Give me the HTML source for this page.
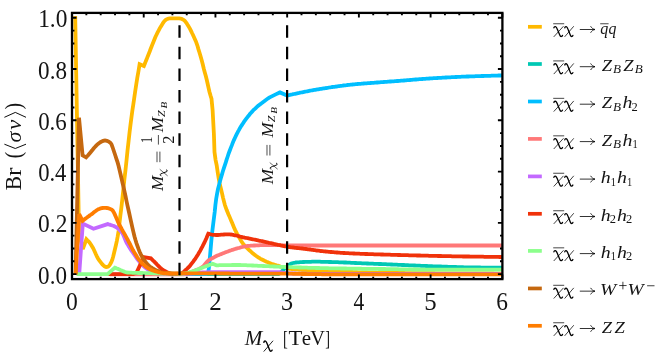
<!DOCTYPE html>
<html><head><meta charset="utf-8"><title>Branching ratios</title>
<style>html,body{margin:0;padding:0;background:#fff}body{width:664px;height:358px;overflow:hidden;position:relative;font-family:"Liberation Serif",serif}</style></head>
<body>
<svg width="664" height="358" viewBox="0 0 664 358" style="position:absolute;left:0;top:0;will-change:transform">
<defs><clipPath id="c"><rect x="72.0" y="12.9" width="430.4" height="266.20000000000005"/></clipPath></defs>
<rect width="664" height="358" fill="#fff"/>
<g clip-path="url(#c)" fill="none" stroke-width="3.8" stroke-linejoin="miter" stroke-miterlimit="3" stroke-linecap="butt">
<polyline stroke="#FFB900" points="75.2,16.1 79.0,233.0 82.8,249.0 86.4,239.3 87.4,240.3 88.5,241.3 89.5,242.5 90.4,243.7 91.2,245.0 92.1,246.5 93.0,248.0 94.0,250.0 95.0,252.2 96.0,254.5 97.0,256.6 98.0,258.5 98.9,259.9 99.8,261.1 100.6,262.2 101.5,263.3 102.4,264.4 103.4,265.4 104.3,266.2 105.2,266.7 106.2,267.0 107.2,266.9 108.2,266.5 109.3,265.6 110.3,264.0 111.4,262.0 112.3,259.7 113.2,256.5 114.1,252.8 115.0,249.0 115.9,245.2 116.8,241.1 117.7,236.4 118.6,231.0 119.4,223.9 120.3,216.0 121.2,209.1 122.0,202.0 123.2,191.0 124.3,180.0 125.5,170.0 126.5,160.6 127.5,150.7 128.6,141.0 129.6,132.0 130.5,124.7 131.4,117.7 132.3,110.9 133.3,104.5 134.2,98.2 135.1,92.0 136.2,84.7 137.3,77.8 138.5,71.0 139.6,64.2 143.9,66.0 144.9,63.6 145.8,61.2 146.8,58.8 147.7,56.4 148.7,54.0 149.7,51.5 150.6,49.0 151.6,46.5 152.6,43.9 153.6,41.5 154.6,39.1 155.5,36.8 156.5,34.7 157.5,32.6 158.6,30.6 159.6,28.7 160.6,26.9 161.7,25.2 162.7,23.6 163.6,22.2 164.6,20.9 165.5,20.0 166.5,19.4 167.5,18.9 168.5,18.5 169.5,18.4 170.5,18.4 171.5,18.4 172.4,18.4 173.4,18.4 174.4,18.4 175.4,18.4 176.4,18.4 177.3,18.4 178.3,18.4 179.3,18.4 180.4,18.5 181.4,18.8 182.4,19.3 183.5,19.8 184.6,20.6 185.6,21.9 186.7,23.4 187.7,25.1 188.8,26.8 189.9,28.6 190.9,30.6 191.9,32.8 193.0,35.0 193.9,37.0 194.8,39.0 195.8,41.2 196.7,43.6 197.6,46.2 198.4,49.1 199.3,52.0 200.5,56.0 201.7,60.3 202.8,64.5 203.8,68.7 204.8,72.4 205.8,76.1 206.8,80.0 207.7,84.0 208.6,88.2 209.5,92.0 210.5,95.5 211.5,98.7 212.6,110.0 213.9,134.0 214.5,152.0 215.6,160.1 216.7,165.4 217.7,172.2 218.7,178.5 219.8,184.1 221.0,188.9 222.1,193.6 223.0,197.6 224.0,201.6 224.9,205.0 225.8,207.6 226.6,209.8 227.5,212.0 228.4,214.3 229.4,216.4 230.3,218.6 231.3,220.9 232.3,223.3 233.2,225.6 234.2,227.9 235.2,230.1 236.2,232.1 237.1,233.9 238.1,235.6 239.1,237.2 240.0,238.8 241.2,241.0 242.5,243.0 243.5,244.3 244.6,245.5 245.6,246.6 246.6,247.7 247.7,248.6 248.7,249.6 249.7,250.5 250.7,251.4 251.7,252.3 252.7,253.2 253.7,254.0 254.6,254.8 255.6,255.6 256.6,256.3 257.6,257.0 258.6,257.6 259.6,258.2 260.6,258.8 261.5,259.3 262.5,259.8 263.5,260.3 264.5,260.8 265.5,261.2 266.4,261.7 267.4,262.1 268.4,262.5 269.4,262.9 270.4,263.3 271.5,263.7 272.5,264.0 273.5,264.4 274.5,264.7 275.5,265.0 276.5,265.3 277.6,265.6 278.6,265.9 279.6,266.2 280.6,266.5 281.7,266.8 282.7,267.1 283.7,267.3 284.8,267.6 285.8,267.9 286.8,268.2 287.8,268.4 288.9,268.6 289.9,268.8 290.9,269.0 292.0,269.2 293.0,269.3 294.0,269.4 295.0,269.5 296.0,269.6 297.0,269.7 298.0,269.7 299.0,269.8 300.0,269.9 301.0,269.9 302.0,270.0 303.0,270.0 304.0,270.1 305.0,270.1 306.0,270.2 307.0,270.3 308.0,270.3 309.0,270.4 310.0,270.4 311.0,270.5 312.0,270.5 313.0,270.6 314.0,270.6 315.0,270.6 316.0,270.7 317.0,270.7 318.0,270.8 319.0,270.8 320.0,270.9 321.0,270.9 322.0,270.9 323.0,271.0 324.0,271.0 325.0,271.1 326.0,271.1 327.0,271.1 328.0,271.2 329.0,271.2 330.0,271.2 331.0,271.3 332.0,271.3 333.0,271.4 334.0,271.4 335.0,271.4 336.0,271.5 337.0,271.5 338.0,271.5 339.0,271.6 340.0,271.6 341.0,271.6 342.0,271.7 343.0,271.7 344.0,271.8 345.0,271.8 346.0,271.8 347.0,271.9 348.0,271.9 349.0,271.9 350.0,272.0 351.0,272.0 352.0,272.0 353.0,272.1 354.0,272.1 355.0,272.2 356.0,272.2 357.0,272.2 358.0,272.3 359.0,272.3 360.0,272.3 361.0,272.4 362.0,272.4 363.0,272.4 364.0,272.5 365.0,272.5 366.0,272.5 367.0,272.5 368.0,272.6 369.0,272.6 370.0,272.6 371.0,272.6 372.0,272.7 373.0,272.7 374.0,272.7 375.0,272.7 376.0,272.7 377.0,272.8 378.0,272.8 379.0,272.8 380.0,272.8 381.0,272.8 382.0,272.8 383.0,272.8 384.0,272.8 385.0,272.9 386.0,272.9 387.0,272.9 388.0,272.9 389.0,272.9 390.0,272.9 391.0,272.9 392.0,272.9 393.0,272.9 394.0,273.0 395.0,273.0 396.1,273.0 397.1,273.0 398.1,273.0 399.1,273.0 400.1,273.0 401.1,273.0 402.1,273.0 403.1,273.0 404.1,273.0 405.1,273.1 406.1,273.1 407.1,273.1 408.1,273.1 409.1,273.1 410.1,273.1 411.1,273.1 412.1,273.1 413.1,273.1 414.1,273.1 415.1,273.1 416.1,273.1 417.1,273.1 418.1,273.1 419.1,273.2 420.1,273.2 421.1,273.2 422.1,273.2 423.1,273.2 424.1,273.2 425.1,273.2 426.2,273.2 427.2,273.2 428.2,273.2 429.2,273.2 430.2,273.2 431.2,273.2 432.2,273.2 433.2,273.2 434.2,273.2 435.2,273.3 436.2,273.3 437.2,273.3 438.2,273.3 439.2,273.3 440.2,273.3 441.2,273.3 442.2,273.3 443.2,273.3 444.2,273.3 445.2,273.3 446.2,273.3 447.2,273.3 448.2,273.3 449.2,273.3 450.2,273.3 451.2,273.3 452.2,273.3 453.2,273.3 454.2,273.3 455.2,273.4 456.2,273.4 457.3,273.4 458.3,273.4 459.3,273.4 460.3,273.4 461.3,273.4 462.3,273.4 463.3,273.4 464.3,273.4 465.3,273.4 466.3,273.4 467.3,273.4 468.3,273.4 469.3,273.4 470.3,273.4 471.3,273.4 472.3,273.4 473.3,273.4 474.3,273.4 475.3,273.4 476.3,273.5 477.3,273.5 478.3,273.5 479.3,273.5 480.3,273.5 481.3,273.5 482.3,273.5 483.3,273.5 484.3,273.5 485.3,273.5 486.3,273.5 487.4,273.5 488.4,273.5 489.4,273.5 490.4,273.5 491.4,273.5 492.4,273.5 493.4,273.5 494.4,273.6 495.4,273.6 496.4,273.6 497.4,273.6 498.4,273.6 499.4,273.6 500.4,273.6 501.4,273.6 502.4,273.6"/>
<polyline stroke="#00C8B4" points="183.0,274.2 278.5,274.2 279.2,273.7 280.0,273.2 281.1,272.2 282.1,271.1 283.2,270.0 284.1,269.1 285.0,268.2 285.9,267.4 286.8,266.6 287.7,265.9 288.6,265.1 289.5,264.5 290.4,264.0 291.3,263.6 292.2,263.3 293.1,263.0 294.0,262.8 295.0,262.7 296.0,262.5 297.0,262.4 298.0,262.3 299.0,262.3 300.0,262.2 301.0,262.1 302.0,262.1 303.0,262.0 304.0,262.0 305.0,261.9 306.0,261.9 307.0,261.9 308.0,261.8 309.0,261.8 310.0,261.8 311.0,261.8 312.0,261.7 313.0,261.7 314.0,261.7 315.0,261.7 316.0,261.7 317.0,261.7 318.0,261.7 319.0,261.7 320.0,261.7 321.0,261.8 322.0,261.8 323.0,261.8 324.0,261.8 325.0,261.9 326.0,261.9 327.0,261.9 328.0,261.9 329.0,262.0 330.0,262.0 331.0,262.0 332.0,262.1 333.0,262.1 334.0,262.1 335.0,262.1 336.0,262.2 337.0,262.2 338.0,262.2 339.0,262.3 340.0,262.3 341.0,262.3 342.0,262.4 343.0,262.4 344.0,262.5 345.0,262.5 346.0,262.5 347.0,262.6 348.0,262.6 349.0,262.7 350.0,262.7 351.0,262.8 352.0,262.8 353.0,262.9 354.0,262.9 355.0,263.0 356.0,263.0 357.0,263.1 358.0,263.1 359.0,263.2 360.0,263.2 361.0,263.2 362.0,263.3 363.0,263.3 364.0,263.4 365.0,263.4 366.0,263.4 367.0,263.5 368.0,263.5 369.0,263.6 370.0,263.6 371.0,263.6 372.0,263.7 373.0,263.7 374.0,263.8 375.0,263.8 376.0,263.8 377.0,263.9 378.0,263.9 379.0,264.0 380.0,264.0 381.0,264.0 382.0,264.1 383.0,264.1 384.0,264.2 385.0,264.2 386.0,264.2 387.0,264.3 388.0,264.3 389.0,264.4 390.0,264.4 391.0,264.5 392.0,264.5 393.0,264.6 394.0,264.6 395.0,264.6 396.0,264.7 397.0,264.7 398.0,264.8 399.0,264.8 400.0,264.9 401.0,264.9 402.0,265.0 403.0,265.0 404.0,265.0 405.0,265.1 406.0,265.1 407.0,265.2 408.0,265.2 409.0,265.3 410.0,265.3 411.0,265.4 412.0,265.4 413.0,265.4 414.0,265.5 415.0,265.5 416.0,265.6 417.0,265.6 418.0,265.7 419.0,265.7 420.0,265.7 421.0,265.8 422.0,265.8 423.0,265.9 424.0,265.9 425.0,265.9 426.0,266.0 427.0,266.0 428.0,266.1 429.0,266.1 430.0,266.1 431.0,266.2 432.0,266.2 433.0,266.3 434.0,266.3 435.0,266.3 436.0,266.4 437.0,266.4 438.0,266.4 439.0,266.5 440.0,266.5 441.0,266.5 442.0,266.6 443.0,266.6 444.0,266.6 445.0,266.7 446.0,266.7 447.0,266.7 448.0,266.8 449.0,266.8 450.0,266.8 451.0,266.9 452.0,266.9 453.0,266.9 454.0,267.0 455.0,267.0 456.0,267.0 457.0,267.1 458.0,267.1 459.0,267.1 460.0,267.2 461.0,267.2 462.0,267.2 463.0,267.2 464.0,267.3 465.0,267.3 466.0,267.3 467.0,267.3 468.0,267.4 469.0,267.4 470.0,267.4 471.0,267.4 472.0,267.4 473.0,267.5 474.0,267.5 475.0,267.5 476.0,267.5 477.0,267.5 478.0,267.5 479.0,267.5 480.1,267.5 481.1,267.6 482.1,267.6 483.1,267.6 484.1,267.6 485.1,267.6 486.2,267.6 487.2,267.6 488.2,267.6 489.2,267.6 490.2,267.6 491.2,267.6 492.2,267.6 493.3,267.6 494.3,267.6 495.3,267.7 496.3,267.7 497.3,267.7 498.3,267.7 499.4,267.7 500.4,267.7 501.4,267.7 502.4,267.7"/>
<polyline stroke="#00BEFF" points="183.0,274.2 206.0,274.2 208.2,272.5 208.9,268.0 210.2,254.0 211.4,240.0 212.3,231.2 213.5,221.6 214.7,212.0 215.4,205.0 216.2,198.7 217.1,193.6 218.0,189.0 219.0,185.1 219.9,181.5 220.9,177.9 221.9,174.6 222.8,171.5 223.8,168.4 224.8,165.4 225.8,162.4 226.7,159.4 227.7,156.5 228.6,153.7 229.6,151.0 230.7,148.1 231.8,145.4 232.8,142.7 233.9,140.1 235.0,137.7 236.1,135.4 237.1,133.5 238.0,131.6 239.0,129.9 239.9,128.2 240.9,126.6 242.0,124.9 243.1,123.2 244.1,121.7 245.2,120.2 246.3,118.7 247.3,117.4 248.2,116.2 249.2,115.0 250.1,113.8 251.1,112.7 252.1,111.6 253.1,110.5 254.1,109.5 255.2,108.6 256.2,107.6 257.2,106.7 258.2,105.8 259.2,105.0 260.2,104.2 261.2,103.4 262.2,102.7 263.2,101.9 264.2,101.2 265.2,100.4 266.2,99.7 267.2,99.0 268.2,98.3 269.2,97.7 270.2,97.1 271.2,96.6 272.2,96.1 273.2,95.6 274.2,95.1 275.2,94.6 276.2,94.1 277.1,93.7 278.1,93.3 279.0,92.8 280.0,92.4 287.0,95.5 288.0,95.3 289.0,95.1 290.0,94.9 291.0,94.7 292.1,94.5 293.1,94.2 294.1,94.0 295.1,93.8 296.1,93.6 297.1,93.4 298.1,93.2 299.1,93.0 300.1,92.7 301.1,92.5 302.2,92.3 303.2,92.1 304.2,91.9 305.2,91.7 306.2,91.5 307.2,91.3 308.2,91.1 309.2,90.9 310.2,90.7 311.2,90.5 312.3,90.3 313.3,90.1 314.3,89.9 315.3,89.8 316.3,89.6 317.3,89.4 318.3,89.3 319.3,89.1 320.3,88.9 321.3,88.8 322.4,88.6 323.4,88.4 324.4,88.3 325.4,88.1 326.4,88.0 327.4,87.8 328.4,87.7 329.4,87.5 330.4,87.3 331.4,87.2 332.4,87.0 333.4,86.9 334.5,86.8 335.5,86.6 336.5,86.5 337.5,86.3 338.5,86.2 339.5,86.1 340.5,85.9 341.5,85.8 342.5,85.7 343.5,85.5 344.5,85.4 345.5,85.3 346.6,85.2 347.6,85.0 348.6,84.9 349.6,84.8 350.6,84.7 351.6,84.6 352.6,84.5 353.6,84.4 354.6,84.3 355.6,84.2 356.6,84.1 357.6,84.0 358.6,83.9 359.7,83.8 360.7,83.8 361.7,83.7 362.7,83.6 363.7,83.5 364.7,83.4 365.7,83.4 366.7,83.3 367.7,83.2 368.7,83.1 369.7,83.1 370.7,83.0 371.7,82.9 372.7,82.8 373.8,82.8 374.8,82.7 375.8,82.6 376.8,82.5 377.8,82.5 378.8,82.4 379.8,82.3 380.8,82.2 381.8,82.1 382.8,82.1 383.8,82.0 384.9,81.9 385.9,81.8 386.9,81.8 387.9,81.7 388.9,81.6 389.9,81.5 390.9,81.5 391.9,81.4 392.9,81.3 393.9,81.3 394.9,81.2 396.0,81.1 397.0,81.0 398.0,81.0 399.0,80.9 400.0,80.8 401.0,80.7 402.0,80.6 403.0,80.6 404.0,80.5 405.1,80.4 406.1,80.3 407.1,80.2 408.1,80.1 409.1,80.1 410.1,80.0 411.1,79.9 412.1,79.8 413.1,79.7 414.2,79.6 415.2,79.5 416.2,79.5 417.2,79.4 418.2,79.3 419.2,79.2 420.2,79.1 421.2,79.1 422.3,79.0 423.3,78.9 424.3,78.8 425.3,78.8 426.3,78.7 427.3,78.6 428.3,78.6 429.3,78.5 430.3,78.4 431.3,78.4 432.4,78.3 433.4,78.2 434.4,78.2 435.4,78.1 436.4,78.1 437.4,78.0 438.4,77.9 439.4,77.9 440.4,77.8 441.4,77.8 442.4,77.7 443.4,77.6 444.5,77.6 445.5,77.5 446.5,77.5 447.5,77.4 448.5,77.4 449.5,77.3 450.5,77.3 451.5,77.2 452.5,77.2 453.5,77.1 454.5,77.1 455.5,77.0 456.6,77.0 457.6,76.9 458.6,76.9 459.6,76.8 460.6,76.8 461.6,76.7 462.6,76.7 463.6,76.7 464.6,76.6 465.6,76.6 466.6,76.5 467.6,76.5 468.6,76.5 469.6,76.4 470.6,76.4 471.6,76.4 472.6,76.3 473.5,76.3 474.5,76.3 475.5,76.2 476.5,76.2 477.5,76.2 478.5,76.1 479.5,76.1 480.5,76.1 481.5,76.0 482.5,76.0 483.5,76.0 484.5,75.9 485.5,75.9 486.5,75.9 487.5,75.9 488.5,75.8 489.5,75.8 490.5,75.8 491.5,75.7 492.4,75.7 493.4,75.7 494.4,75.6 495.4,75.6 496.4,75.6 497.4,75.6 498.4,75.5 499.4,75.5 500.4,75.5 501.4,75.4 502.4,75.4"/>
<polyline stroke="#FF7878" points="110.0,274.3 184.0,274.3 185.0,274.1 186.0,273.9 187.0,273.6 188.0,273.3 189.0,272.9 190.0,272.5 191.0,272.1 192.0,271.7 193.0,271.3 194.0,270.9 195.0,270.5 196.0,270.1 197.0,269.7 198.0,269.3 198.9,268.9 199.8,268.4 200.8,268.0 201.7,267.4 202.6,266.8 203.7,265.8 204.8,264.5 206.0,263.1 207.1,261.8 207.8,261.0 208.6,260.2 209.6,259.7 210.6,259.1 211.6,258.6 212.7,258.0 213.7,257.5 214.8,256.9 215.9,256.3 216.9,255.8 218.0,255.3 219.0,254.9 220.0,254.4 221.0,254.1 222.0,253.7 223.0,253.3 224.0,252.9 225.0,252.5 226.0,252.1 227.0,251.8 228.0,251.4 229.0,251.0 230.1,250.6 231.1,250.3 232.2,249.9 233.2,249.6 234.2,249.2 235.3,248.9 236.3,248.6 237.3,248.3 238.4,248.0 239.4,247.8 240.4,247.5 241.5,247.2 242.5,247.0 243.5,246.7 244.6,246.5 245.6,246.3 246.6,246.1 247.7,246.0 248.7,245.9 249.7,245.8 250.8,245.7 251.8,245.7 252.8,245.6 253.8,245.5 254.9,245.5 255.9,245.4 256.9,245.4 257.9,245.3 259.0,245.3 260.0,245.2 261.0,245.2 262.1,245.2 263.1,245.1 264.1,245.1 265.1,245.1 266.2,245.1 267.2,245.1 268.2,245.1 269.2,245.1 270.2,245.1 271.2,245.1 272.2,245.1 273.2,245.1 274.2,245.1 275.2,245.2 276.1,245.2 277.1,245.2 278.1,245.2 279.1,245.2 280.1,245.2 281.1,245.3 282.1,245.3 283.1,245.3 284.1,245.3 285.1,245.3 286.1,245.3 287.1,245.4 288.1,245.4 289.1,245.4 290.1,245.4 291.1,245.4 292.0,245.4 293.0,245.5 294.0,245.5 295.0,245.5 296.0,245.5 297.0,245.5 298.0,245.5 299.0,245.5 300.0,245.5 301.0,245.5 302.0,245.5 303.0,245.5 304.0,245.5 305.0,245.5 306.0,245.5 307.0,245.5 308.0,245.5 309.0,245.5 310.0,245.5 311.0,245.5 312.0,245.5 313.0,245.5 314.0,245.5 315.0,245.5 316.0,245.5 317.0,245.5 318.0,245.5 319.0,245.5 320.0,245.5 321.0,245.5 322.0,245.5 323.0,245.5 324.0,245.5 325.0,245.5 326.1,245.5 327.1,245.5 328.1,245.5 329.1,245.5 330.1,245.5 331.1,245.5 332.1,245.5 333.1,245.5 334.1,245.5 335.1,245.5 336.1,245.5 337.1,245.5 338.1,245.5 339.1,245.5 340.1,245.5 341.1,245.5 342.1,245.5 343.1,245.5 344.1,245.5 345.1,245.5 346.1,245.5 347.1,245.5 348.1,245.5 349.1,245.5 350.1,245.5 351.1,245.5 352.1,245.5 353.1,245.5 354.1,245.5 355.1,245.5 356.1,245.5 357.1,245.5 358.1,245.5 359.1,245.5 360.1,245.5 361.1,245.5 362.1,245.5 363.1,245.5 364.1,245.5 365.1,245.5 366.1,245.5 367.1,245.5 368.1,245.5 369.1,245.5 370.1,245.5 371.1,245.5 372.1,245.5 373.1,245.5 374.1,245.5 375.1,245.5 376.2,245.5 377.2,245.5 378.2,245.5 379.2,245.5 380.2,245.5 381.2,245.5 382.2,245.5 383.2,245.5 384.2,245.5 385.2,245.5 386.2,245.5 387.2,245.5 388.2,245.5 389.2,245.5 390.2,245.5 391.2,245.5 392.2,245.5 393.2,245.5 394.2,245.5 395.2,245.5 396.2,245.5 397.2,245.5 398.2,245.5 399.2,245.5 400.2,245.5 401.2,245.5 402.2,245.5 403.2,245.5 404.2,245.5 405.2,245.5 406.2,245.5 407.2,245.5 408.2,245.5 409.2,245.5 410.2,245.5 411.2,245.5 412.2,245.5 413.2,245.5 414.2,245.5 415.2,245.5 416.2,245.5 417.2,245.5 418.2,245.5 419.2,245.5 420.2,245.5 421.2,245.5 422.2,245.5 423.2,245.5 424.2,245.5 425.2,245.5 426.2,245.5 427.3,245.5 428.3,245.5 429.3,245.5 430.3,245.5 431.3,245.5 432.3,245.5 433.3,245.5 434.3,245.5 435.3,245.5 436.3,245.5 437.3,245.5 438.3,245.5 439.3,245.5 440.3,245.5 441.3,245.5 442.3,245.5 443.3,245.5 444.3,245.5 445.3,245.5 446.3,245.5 447.3,245.5 448.3,245.5 449.3,245.5 450.3,245.5 451.3,245.5 452.3,245.5 453.3,245.5 454.3,245.5 455.3,245.5 456.3,245.5 457.3,245.5 458.3,245.5 459.3,245.5 460.3,245.5 461.3,245.5 462.3,245.5 463.3,245.5 464.3,245.5 465.3,245.5 466.3,245.5 467.3,245.5 468.3,245.5 469.3,245.5 470.3,245.5 471.3,245.5 472.3,245.5 473.3,245.5 474.3,245.5 475.3,245.5 476.3,245.5 477.4,245.5 478.4,245.5 479.4,245.5 480.4,245.5 481.4,245.5 482.4,245.5 483.4,245.5 484.4,245.5 485.4,245.5 486.4,245.5 487.4,245.5 488.4,245.5 489.4,245.5 490.4,245.5 491.4,245.5 492.4,245.5 493.4,245.5 494.4,245.5 495.4,245.5 496.4,245.5 497.4,245.5 498.4,245.5 499.4,245.5 500.4,245.5 501.4,245.5 502.4,245.5"/>
<polyline stroke="#C369FF" points="79.2,274.3 82.8,223.6 93.5,228.7 107.7,224.1 108.6,224.4 109.6,224.6 110.5,224.9 111.5,225.2 112.4,225.5 113.4,225.8 114.3,226.2 115.3,226.7 116.3,227.3 117.3,228.0 118.3,228.7 119.3,229.6 120.3,230.6 121.3,231.8 122.3,233.0 123.2,234.7 124.2,237.0 125.1,239.4 126.0,241.5 126.9,243.2 127.9,244.9 128.8,246.4 129.8,247.9 130.7,249.4 131.6,250.8 132.6,252.1 133.5,253.5 134.5,255.0 135.5,256.4 136.5,257.9 137.5,259.3 138.5,260.6 139.5,261.9 140.5,263.0 141.4,264.0 142.4,264.9 143.3,265.9 144.2,266.7 145.2,267.5 146.1,268.3 147.1,268.9 148.0,269.5 149.0,270.0 150.0,270.5 151.0,271.0 152.0,271.4 153.0,271.7 154.0,272.0 155.0,272.3 156.0,272.5 157.0,272.7 158.0,272.9 159.0,273.1 160.0,273.3 161.0,273.4 162.0,273.6 163.0,273.7 164.0,273.8 165.0,273.8 166.0,273.8 167.1,273.9 168.1,273.9 169.1,273.9 170.2,273.9 171.2,273.9 172.2,273.9 173.3,274.0 174.3,274.0 175.4,274.0 176.4,274.0 177.4,274.0 178.5,274.0 179.5,274.0 180.5,274.0 181.4,274.0 182.4,274.0 183.4,273.9 184.3,273.9 185.3,273.8 186.3,273.8 187.2,273.7 188.2,273.7 189.2,273.6 190.2,273.5 191.1,273.5 192.1,273.4 193.1,273.3 194.0,273.3 195.0,273.2 196.0,273.1 197.0,273.0 198.0,272.9 199.0,272.8 200.0,272.7 201.0,272.6 202.0,272.5 203.0,272.5 204.0,272.4 205.0,272.4 206.0,272.3 207.0,272.3 208.0,272.2 209.0,272.2 210.0,272.2 211.0,272.2 212.0,272.1 213.0,272.1 214.0,272.1 215.0,272.1 216.0,272.1 217.0,272.1 218.0,272.1 219.0,272.1 220.0,272.1 221.0,272.1 222.0,272.1 223.0,272.1 224.0,272.1 225.0,272.1 226.0,272.1 227.0,272.1 228.0,272.1 229.0,272.1 230.0,272.1 231.0,272.1 232.0,272.1 233.0,272.1 234.0,272.1 235.0,272.1 236.0,272.1 237.0,272.1 238.0,272.1 239.0,272.1 240.0,272.1 241.0,272.1 242.0,272.1 243.0,272.1 244.0,272.1 245.0,272.1 246.0,272.1 247.0,272.1 248.0,272.1 249.0,272.1 250.0,272.1 251.0,272.1 252.0,272.1 253.0,272.1 254.0,272.2 255.0,272.2 256.0,272.2 257.0,272.2 258.0,272.2 259.0,272.2 260.0,272.2 261.0,272.2 262.0,272.2 263.0,272.2 264.0,272.2 265.0,272.2 266.0,272.2 267.0,272.2 268.0,272.2 269.0,272.2 270.0,272.2 271.0,272.2 272.0,272.2 273.0,272.2 274.0,272.2 275.0,272.2 276.0,272.2 277.0,272.2 278.0,272.2 279.0,272.2 280.0,272.2 281.0,272.3 282.0,272.5 283.0,272.7 284.0,272.8 285.0,273.0 286.0,273.1 287.0,273.3 288.0,273.4 289.0,273.4 290.0,273.4 291.0,273.5 292.0,273.5 293.0,273.5 294.0,273.5 295.0,273.5 296.0,273.6 297.0,273.6 298.0,273.6 299.0,273.6 300.0,273.6 301.0,273.7 302.0,273.7 303.0,273.7 304.0,273.7 305.0,273.7 306.0,273.7 307.0,273.8 308.0,273.8 309.0,273.8 310.0,273.8 311.0,273.8 312.0,273.8 313.0,273.8 314.0,273.8 315.0,273.8 316.0,273.9 317.0,273.9 318.0,273.9 319.0,273.9 320.0,273.9 321.0,273.9 322.0,273.9 323.0,273.9 324.0,273.9 325.0,273.9 326.0,273.9 327.0,273.9 328.0,273.9 329.0,273.9 330.0,273.9 331.0,273.9 332.0,273.9 333.0,273.9 334.0,273.9 335.0,273.9 336.0,273.9 337.0,273.9 338.0,273.9 339.0,273.9 340.0,273.9 341.0,273.9 342.0,273.9 343.0,273.9 344.0,273.9 345.0,273.9 346.0,273.9 347.0,273.9 348.0,273.9 349.0,273.9 350.0,273.9 351.0,273.9 352.1,273.9 353.1,273.9 354.1,273.9 355.1,273.9 356.1,273.9 357.1,273.9 358.1,273.9 359.1,273.9 360.1,273.9 361.1,273.9 362.1,273.9 363.1,273.9 364.1,273.9 365.1,273.9 366.1,273.9 367.1,273.9 368.1,273.9 369.1,273.9 370.1,273.9 371.1,273.9 372.1,273.9 373.1,273.9 374.1,273.9 375.1,273.9 376.1,273.9 377.1,273.9 378.1,273.9 379.1,273.9 380.1,273.9 381.1,273.9 382.1,273.9 383.1,273.9 384.1,273.9 385.1,273.9 386.1,273.9 387.1,273.9 388.1,273.9 389.1,273.9 390.1,273.9 391.1,273.9 392.1,273.9 393.1,273.9 394.1,273.9 395.2,273.9 396.2,273.9 397.2,273.9 398.2,273.9 399.2,273.9 400.2,273.9 401.2,273.9 402.2,273.9 403.2,273.9 404.2,273.9 405.2,273.9 406.2,273.9 407.2,273.9 408.2,273.9 409.2,273.9 410.2,273.9 411.2,273.9 412.2,273.9 413.2,273.9 414.2,273.9 415.2,273.9 416.2,273.9 417.2,273.9 418.2,273.9 419.2,273.9 420.2,273.9 421.2,273.9 422.2,273.9 423.2,273.9 424.2,273.9 425.2,273.9 426.2,273.9 427.2,273.9 428.2,273.9 429.2,273.9 430.2,273.9 431.2,273.9 432.2,273.9 433.2,273.9 434.2,273.9 435.2,273.9 436.2,273.9 437.2,273.9 438.3,273.9 439.3,273.9 440.3,273.9 441.3,273.9 442.3,273.9 443.3,273.9 444.3,273.9 445.3,273.9 446.3,273.9 447.3,273.9 448.3,273.9 449.3,273.9 450.3,273.9 451.3,273.9 452.3,273.9 453.3,273.9 454.3,273.9 455.3,273.9 456.3,273.9 457.3,273.9 458.3,273.9 459.3,273.9 460.3,273.9 461.3,273.9 462.3,273.9 463.3,273.9 464.3,273.9 465.3,273.9 466.3,273.9 467.3,273.9 468.3,273.9 469.3,273.9 470.3,273.9 471.3,273.9 472.3,273.9 473.3,273.9 474.3,273.9 475.3,273.9 476.3,273.9 477.3,273.9 478.3,273.9 479.3,273.9 480.3,273.9 481.4,273.9 482.4,273.9 483.4,273.9 484.4,273.9 485.4,273.9 486.4,273.9 487.4,273.9 488.4,273.9 489.4,273.9 490.4,273.9 491.4,273.9 492.4,273.9 493.4,273.9 494.4,273.9 495.4,273.9 496.4,273.9 497.4,273.9 498.4,273.9 499.4,273.9 500.4,273.9 501.4,273.9 502.4,273.9"/>
<polyline stroke="#F0320A" points="108.0,274.1 133.0,274.1 136.6,272.5 143.7,257.2 150.9,258.3 151.9,259.3 152.9,260.3 154.0,261.3 155.0,262.4 156.0,263.4 157.0,264.5 158.1,265.6 159.1,266.6 160.1,267.6 161.1,268.5 162.1,269.3 163.2,270.1 164.2,270.8 165.2,271.3 166.2,271.8 167.3,272.3 168.3,272.7 169.3,273.1 170.3,273.4 171.4,273.7 172.4,273.8 173.4,273.9 174.4,273.9 175.4,274.0 176.5,274.0 177.5,274.1 178.5,274.1 179.5,274.1 180.5,274.0 181.4,273.5 182.4,272.9 183.3,272.2 184.3,271.3 185.2,270.4 186.2,269.6 187.2,268.7 188.2,267.7 189.2,266.6 190.2,265.5 191.2,264.2 192.2,262.9 193.2,261.6 194.2,260.2 195.2,258.8 196.2,257.3 197.2,255.7 198.3,254.0 199.3,252.2 200.4,250.4 201.4,248.4 202.5,246.4 203.5,244.3 204.6,242.2 205.6,240.0 206.5,238.0 207.4,235.8 208.3,233.7 209.2,233.9 210.2,234.2 211.1,234.5 212.1,234.7 213.0,234.8 214.0,234.9 215.0,234.9 216.0,235.0 217.0,235.0 218.0,235.0 219.0,234.9 220.0,234.8 221.0,234.7 222.0,234.7 223.0,234.6 224.0,234.5 225.0,234.4 226.0,234.4 227.0,234.3 228.0,234.3 229.0,234.3 230.0,234.3 231.0,234.5 232.0,234.6 233.0,234.8 234.0,235.1 235.0,235.3 236.0,235.5 237.1,235.7 238.2,236.0 239.2,236.3 240.3,236.6 241.4,236.8 242.5,237.1 243.5,237.3 244.6,237.6 245.6,237.8 246.6,238.0 247.6,238.2 248.7,238.4 249.7,238.7 250.7,238.9 251.8,239.1 252.8,239.3 253.8,239.5 254.8,239.7 255.9,239.9 256.9,240.1 257.9,240.3 258.9,240.6 260.0,240.8 261.0,241.0 262.0,241.2 263.0,241.4 264.0,241.7 265.0,241.9 266.0,242.1 267.0,242.3 268.0,242.5 268.9,242.8 269.9,243.0 270.9,243.2 271.9,243.4 272.9,243.6 273.9,243.9 274.9,244.1 275.9,244.3 276.9,244.5 277.9,244.8 278.9,245.0 279.9,245.2 280.9,245.5 282.0,245.7 283.0,245.9 284.0,246.1 285.0,246.3 286.0,246.5 287.0,246.7 288.0,246.9 289.0,247.0 290.0,247.1 291.0,247.3 292.0,247.4 293.0,247.5 294.0,247.6 295.0,247.8 296.0,247.9 297.0,248.0 298.0,248.1 299.0,248.2 300.0,248.3 301.0,248.4 302.0,248.5 303.0,248.6 304.0,248.8 305.0,248.9 306.0,249.0 307.0,249.1 308.0,249.3 309.0,249.4 309.9,249.5 310.9,249.7 311.9,249.8 312.9,249.9 313.9,250.1 314.9,250.2 315.8,250.3 316.8,250.5 317.8,250.6 318.8,250.7 319.8,250.8 320.8,251.0 321.7,251.1 322.7,251.2 323.7,251.3 324.7,251.4 325.7,251.5 326.7,251.6 327.7,251.7 328.7,251.8 329.6,251.9 330.6,252.0 331.6,252.0 332.6,252.1 333.6,252.2 334.6,252.3 335.6,252.4 336.6,252.5 337.5,252.5 338.5,252.6 339.5,252.7 340.5,252.8 341.5,252.8 342.5,252.9 343.5,253.0 344.5,253.0 345.4,253.1 346.4,253.1 347.4,253.2 348.4,253.2 349.4,253.3 350.4,253.3 351.4,253.4 352.4,253.4 353.4,253.5 354.3,253.5 355.3,253.6 356.3,253.6 357.3,253.7 358.3,253.7 359.3,253.7 360.3,253.8 361.3,253.8 362.2,253.9 363.2,253.9 364.2,253.9 365.2,254.0 366.2,254.0 367.2,254.0 368.2,254.1 369.2,254.1 370.1,254.1 371.1,254.2 372.1,254.2 373.1,254.2 374.1,254.3 375.1,254.3 376.1,254.3 377.1,254.4 378.0,254.4 379.0,254.4 380.0,254.4 381.0,254.5 382.0,254.5 383.0,254.5 384.0,254.6 385.0,254.6 386.0,254.6 387.0,254.6 388.0,254.7 389.0,254.7 390.0,254.7 391.0,254.8 392.0,254.8 393.0,254.8 394.0,254.9 395.0,254.9 396.0,254.9 397.0,254.9 398.0,255.0 399.0,255.0 400.0,255.0 401.0,255.1 402.0,255.1 403.0,255.1 404.0,255.1 405.0,255.2 406.0,255.2 407.0,255.2 408.0,255.2 409.0,255.3 410.0,255.3 411.0,255.3 412.0,255.3 413.0,255.4 414.0,255.4 415.0,255.4 416.0,255.4 417.0,255.5 418.0,255.5 419.0,255.5 420.0,255.5 421.0,255.6 422.0,255.6 423.0,255.6 424.0,255.6 425.0,255.7 426.0,255.7 427.0,255.7 428.0,255.7 429.0,255.8 430.0,255.8 431.0,255.8 432.0,255.8 433.0,255.9 434.0,255.9 435.0,255.9 436.0,255.9 437.0,255.9 438.0,256.0 439.0,256.0 440.0,256.0 441.0,256.0 442.0,256.1 443.0,256.1 444.0,256.1 445.0,256.1 446.0,256.1 447.0,256.2 448.0,256.2 449.0,256.2 450.0,256.2 451.0,256.2 452.0,256.3 453.0,256.3 454.0,256.3 455.0,256.3 456.0,256.3 457.0,256.3 458.0,256.4 459.0,256.4 460.0,256.4 461.0,256.4 462.0,256.4 463.0,256.5 464.0,256.5 465.0,256.5 466.1,256.5 467.1,256.5 468.1,256.5 469.1,256.5 470.1,256.6 471.1,256.6 472.1,256.6 473.1,256.6 474.1,256.6 475.1,256.6 476.2,256.6 477.2,256.7 478.2,256.7 479.2,256.7 480.2,256.7 481.2,256.7 482.2,256.7 483.2,256.7 484.2,256.8 485.2,256.8 486.2,256.8 487.3,256.8 488.3,256.8 489.3,256.8 490.3,256.8 491.3,256.8 492.3,256.9 493.3,256.9 494.3,256.9 495.3,256.9 496.3,256.9 497.4,256.9 498.4,256.9 499.4,257.0 500.4,257.0 501.4,257.0 502.4,257.0"/>
<polyline stroke="#8CFF8C" points="76.5,274.1 107.5,274.1 114.9,267.6 115.9,268.0 116.8,268.4 117.8,268.8 118.8,269.3 119.8,269.7 120.7,270.2 121.7,270.6 122.7,271.1 123.6,271.4 124.6,271.8 125.6,272.1 126.6,272.3 127.5,272.5 128.5,272.6 129.5,272.7 130.5,272.7 131.4,272.7 132.4,272.8 133.4,272.8 134.4,272.9 135.3,272.9 136.3,272.9 137.3,272.9 138.3,273.0 139.2,273.0 140.2,273.0 141.2,273.0 142.2,273.0 143.2,273.1 144.1,273.1 145.1,273.1 146.1,273.1 147.1,273.1 148.0,273.2 149.0,273.2 150.0,273.2 151.0,273.2 152.0,273.2 153.0,273.3 154.0,273.3 155.0,273.3 156.0,273.4 157.0,273.4 158.0,273.4 159.0,273.4 160.0,273.5 161.0,273.5 162.0,273.5 163.0,273.5 164.0,273.6 165.0,273.6 166.0,273.6 167.0,273.6 168.0,273.7 169.0,273.7 170.0,273.7 171.0,273.7 172.0,273.7 173.0,273.7 174.0,273.8 175.0,273.8 176.0,273.8 177.0,273.8 178.0,273.8 179.0,273.8 180.0,273.8 181.0,273.8 181.9,273.7 182.9,273.6 183.8,273.5 184.8,273.3 185.7,273.2 186.7,273.0 187.7,272.8 188.8,272.5 189.8,272.3 190.8,271.9 191.9,271.6 192.9,271.2 194.0,270.9 195.0,270.5 196.0,270.2 196.9,269.8 197.9,269.4 198.9,269.0 199.9,268.6 200.9,268.2 201.8,267.8 202.8,267.4 203.8,267.0 204.8,266.7 205.8,266.3 206.8,265.9 207.8,265.6 208.7,265.2 209.7,264.9 210.7,264.5 211.7,264.2 212.7,263.8 216.4,265.3 217.4,265.3 218.3,265.3 219.3,265.2 220.3,265.2 221.2,265.2 222.2,265.2 223.2,265.2 224.1,265.2 225.1,265.1 226.1,265.1 227.0,265.1 228.0,265.1 229.0,265.1 230.1,265.1 231.1,265.1 232.2,265.0 233.2,265.0 234.2,265.0 235.3,265.0 236.3,265.0 237.3,265.0 238.3,265.0 239.3,265.0 240.3,265.0 241.2,265.1 242.2,265.1 243.2,265.1 244.2,265.1 245.2,265.2 246.2,265.2 247.2,265.3 248.2,265.3 249.1,265.3 250.1,265.4 251.1,265.4 252.1,265.5 253.1,265.5 254.1,265.6 255.1,265.6 256.1,265.7 257.0,265.7 258.0,265.8 259.0,265.8 260.0,265.9 261.0,265.9 262.0,265.9 263.0,266.0 264.0,266.0 265.0,266.1 265.9,266.1 266.9,266.2 267.9,266.2 268.9,266.2 269.9,266.3 270.9,266.3 271.9,266.4 272.9,266.4 273.8,266.5 274.8,266.5 275.8,266.6 276.8,266.6 277.8,266.7 278.8,266.7 279.8,266.8 280.8,266.8 281.7,266.8 282.7,266.9 283.7,266.9 284.7,267.0 285.7,267.0 286.7,267.0 287.7,267.1 288.7,267.1 289.8,267.2 290.8,267.2 291.8,267.2 292.8,267.3 293.8,267.3 294.8,267.3 295.9,267.4 296.9,267.4 297.9,267.4 298.9,267.5 299.9,267.5 300.9,267.5 301.9,267.6 303.0,267.6 304.0,267.6 305.0,267.7 306.0,267.7 307.0,267.7 308.0,267.8 309.0,267.8 310.0,267.8 311.0,267.8 312.0,267.9 313.0,267.9 314.0,267.9 315.0,267.9 316.0,268.0 317.0,268.0 318.0,268.0 319.0,268.0 320.0,268.1 321.0,268.1 322.0,268.1 323.0,268.1 324.0,268.1 325.0,268.2 326.0,268.2 327.0,268.2 328.0,268.2 329.0,268.3 330.0,268.3 331.0,268.3 332.0,268.3 333.0,268.3 334.0,268.3 335.0,268.4 336.0,268.4 337.0,268.4 338.0,268.4 339.0,268.4 340.0,268.4 341.0,268.5 342.0,268.5 343.0,268.5 344.0,268.5 345.0,268.5 346.0,268.5 347.0,268.6 348.0,268.6 349.0,268.6 350.0,268.6 351.0,268.6 352.0,268.6 353.0,268.6 354.0,268.7 355.0,268.7 356.0,268.7 357.0,268.7 358.0,268.7 359.0,268.7 360.0,268.7 361.0,268.7 362.0,268.8 363.0,268.8 364.0,268.8 365.0,268.8 366.0,268.8 367.0,268.8 368.0,268.8 369.0,268.8 370.0,268.9 371.0,268.9 372.0,268.9 373.0,268.9 374.0,268.9 375.0,268.9 376.0,268.9 377.0,268.9 378.0,268.9 379.0,269.0 380.0,269.0 381.0,269.0 382.0,269.0 383.0,269.0 384.0,269.0 385.0,269.0 386.0,269.1 387.0,269.1 388.0,269.1 389.0,269.1 390.0,269.1 391.0,269.1 392.0,269.1 393.0,269.2 394.0,269.2 395.0,269.2 396.0,269.2 397.0,269.2 398.0,269.2 399.0,269.3 400.0,269.3 401.0,269.3 402.0,269.3 403.0,269.3 404.0,269.3 405.0,269.3 406.0,269.4 407.0,269.4 408.0,269.4 409.0,269.4 410.0,269.4 411.0,269.4 412.0,269.5 413.0,269.5 414.0,269.5 415.0,269.5 416.0,269.5 417.0,269.5 418.0,269.5 419.0,269.6 420.0,269.6 421.0,269.6 422.0,269.6 423.0,269.6 424.0,269.6 425.0,269.6 426.0,269.6 427.0,269.6 428.0,269.6 429.0,269.7 430.0,269.7 431.0,269.7 432.0,269.7 433.0,269.7 434.0,269.7 435.0,269.7 436.0,269.7 437.0,269.7 438.0,269.7 439.0,269.7 440.0,269.7 441.0,269.7 442.0,269.7 443.0,269.7 444.0,269.7 445.0,269.7 446.0,269.7 447.0,269.7 448.1,269.7 449.1,269.7 450.1,269.7 451.1,269.7 452.1,269.7 453.1,269.7 454.1,269.7 455.1,269.7 456.1,269.7 457.1,269.7 458.1,269.7 459.1,269.7 460.1,269.7 461.1,269.7 462.1,269.7 463.1,269.7 464.2,269.7 465.2,269.7 466.2,269.7 467.2,269.7 468.2,269.7 469.2,269.7 470.2,269.7 471.2,269.7 472.2,269.7 473.2,269.7 474.2,269.7 475.2,269.7 476.2,269.7 477.2,269.7 478.2,269.7 479.3,269.7 480.3,269.7 481.3,269.7 482.3,269.7 483.3,269.7 484.3,269.7 485.3,269.7 486.3,269.7 487.3,269.7 488.3,269.7 489.3,269.7 490.3,269.7 491.3,269.7 492.3,269.7 493.3,269.7 494.3,269.7 495.4,269.7 496.4,269.7 497.4,269.7 498.4,269.7 499.4,269.7 500.4,269.7 501.4,269.7 502.4,269.7"/>
<polyline stroke="#C5680F" points="75.6,274.5 79.0,117.7 82.6,155.4 86.1,157.4 87.1,156.3 88.1,155.2 89.1,154.0 90.2,152.7 91.2,151.5 92.2,150.3 93.2,149.0 94.2,147.8 95.2,146.7 96.2,145.6 97.2,144.6 98.3,143.7 99.3,142.9 100.3,142.2 101.3,141.7 102.2,141.3 103.2,140.9 104.1,140.6 105.0,140.5 105.9,140.6 106.9,140.8 107.8,141.2 108.7,141.7 109.7,142.3 110.6,143.0 111.6,144.5 112.5,147.0 113.5,150.0 114.5,153.0 115.5,156.0 116.5,159.1 117.6,162.4 118.6,166.0 119.5,169.9 120.5,174.0 121.5,178.4 122.5,182.9 123.6,187.4 124.6,192.0 125.6,196.5 126.5,201.0 127.5,205.6 128.5,210.0 129.5,214.5 130.5,219.1 131.5,223.7 132.5,228.2 133.5,232.4 134.5,236.4 135.5,240.0 136.5,243.3 137.6,246.4 138.6,249.2 139.6,251.7 140.7,254.1 141.8,256.2 143.0,258.2 144.1,259.9 145.2,261.4 146.3,262.8 147.3,264.1 148.4,265.2 149.5,266.2 150.5,267.0 151.6,267.7 152.6,268.4 153.6,269.0 154.6,269.6 155.7,270.1 156.7,270.5 157.7,270.9 158.8,271.3 159.8,271.7 160.8,272.0 161.9,272.3 162.9,272.6 164.0,272.8 165.0,273.0 166.0,273.1 167.0,273.3 168.0,273.4 169.0,273.5 170.0,273.5 171.0,273.6 172.0,273.6 173.0,273.6 174.0,273.6 175.0,273.6 176.0,273.6 177.0,273.6 178.0,273.6"/>
<polyline stroke="#FF7D00" points="75.6,274.5 79.2,214.2 82.6,220.8 83.7,220.0 84.8,219.1 85.9,218.3 87.0,217.5 87.9,216.8 88.9,216.1 89.8,215.4 90.7,214.8 91.7,214.1 92.6,213.4 93.6,212.6 94.6,211.8 95.7,211.0 96.7,210.2 97.7,209.6 98.7,209.1 99.7,208.8 100.7,208.4 101.6,208.2 102.6,208.0 103.6,207.9 104.7,207.9 105.7,207.9 106.8,208.0 107.8,208.1 108.7,208.4 109.7,208.7 110.6,209.1 111.6,209.6 112.7,210.6 113.7,212.2 114.8,214.4 115.8,216.8 116.9,219.3 117.9,221.8 119.0,224.0 120.0,225.8 121.0,227.6 121.9,229.4 122.9,231.2 123.9,232.9 124.9,234.7 125.8,236.4 126.8,238.2 127.8,240.0 128.8,242.0 129.9,244.0 130.9,246.0 131.9,248.0 132.9,250.0 134.0,251.9 135.0,253.6 136.1,255.3 137.1,257.0 138.2,258.6 139.3,260.0 140.3,261.4 141.4,262.6 142.4,263.6 143.5,264.6 144.5,265.6 145.5,266.4 146.5,267.2 147.6,267.9 148.6,268.5 149.6,269.0 150.7,269.5 151.7,270.0 152.7,270.4 153.7,270.8 154.8,271.1 155.8,271.4 156.8,271.7 157.8,272.0 158.9,272.3 159.9,272.5 160.9,272.8 161.9,273.0 163.0,273.2 164.0,273.3 165.0,273.3 166.0,273.3 167.0,273.3 168.0,273.3 169.0,273.3 170.0,273.3 171.0,273.3 172.0,273.3 173.0,273.3 174.0,273.3 175.0,273.3 176.0,273.3 177.0,273.3 178.0,273.3 179.0,273.3 180.0,273.3 181.0,273.3 182.0,273.3 183.0,273.3 184.0,273.3 185.0,273.3 186.0,273.3 187.0,273.3 188.0,273.3 189.0,273.3 190.0,273.3 191.0,273.3 192.0,273.3 193.0,273.3 194.0,273.3 195.0,273.3 196.0,273.3 197.0,273.3 198.0,273.3 199.0,273.3 200.0,273.3 201.0,273.3 202.0,273.3 203.0,273.3 204.0,273.3 205.0,273.3 206.0,273.3 207.0,273.3 208.0,273.3 209.0,273.3 210.0,273.3 211.0,273.4 212.0,273.4 213.0,273.4 214.0,273.4 215.0,273.4 216.0,273.4 217.0,273.4 218.0,273.4 219.0,273.4 220.0,273.5 221.0,273.5 222.0,273.5 223.0,273.5 224.0,273.5 225.0,273.5 226.0,273.5 227.0,273.5 228.0,273.5 229.0,273.5 230.0,273.6 231.0,273.6 232.0,273.6 233.0,273.6 234.0,273.6 235.0,273.6 236.0,273.6 237.0,273.6 238.0,273.6 239.0,273.6 240.0,273.6 241.0,273.6 242.0,273.6 243.0,273.6 244.0,273.6 245.0,273.6 246.0,273.6 247.0,273.6 248.0,273.6 249.0,273.6 250.0,273.6 251.0,273.6 252.0,273.6 253.0,273.6 254.0,273.6 255.0,273.6 256.0,273.6 257.0,273.6 258.0,273.6 259.0,273.6 260.0,273.6 261.0,273.6 262.0,273.6 263.0,273.6 264.0,273.6 265.0,273.6 266.0,273.6 267.0,273.6 268.0,273.6 269.0,273.6 270.0,273.6 271.0,273.6 272.0,273.6 273.0,273.6 274.0,273.6 275.0,273.6 276.0,273.6 277.0,273.6 278.0,273.6 279.0,273.6 280.0,273.6 281.0,273.6 282.0,273.6 283.0,273.6 284.0,273.6 285.0,273.6 286.0,273.6 287.0,273.7 288.0,273.7 289.0,273.7 290.0,273.7 291.0,273.7 292.0,273.7 293.0,273.8 294.0,273.8 295.0,273.8 296.0,273.8 297.0,273.8 298.0,273.9 299.0,273.9 300.0,273.9 301.0,273.9 302.0,274.0 303.0,274.0 304.0,274.0 305.0,274.0 306.0,274.0 307.0,274.1 308.0,274.1 309.0,274.1 310.0,274.1 311.0,274.1 312.0,274.1 313.0,274.1 314.0,274.2 315.0,274.2 316.0,274.2 317.0,274.2 318.0,274.2 319.0,274.2 320.0,274.2 321.0,274.2 322.0,274.3 323.0,274.3 324.0,274.3 325.0,274.3 326.0,274.3 327.0,274.3 328.0,274.3 329.0,274.3 330.0,274.4 331.0,274.4 332.0,274.4 333.0,274.4 334.0,274.4 335.0,274.4 336.0,274.4 337.0,274.4 338.0,274.4 339.0,274.4 340.0,274.4 341.0,274.4 342.0,274.4 343.0,274.4 344.0,274.4 345.0,274.4 346.0,274.4 347.0,274.4 348.0,274.4 349.0,274.4 350.0,274.4 351.0,274.4 352.0,274.4 353.0,274.4 354.0,274.4 355.0,274.4 356.0,274.4 357.0,274.4 358.0,274.4 359.0,274.4 360.0,274.4 361.1,274.4 362.1,274.4 363.1,274.4 364.1,274.4 365.1,274.4 366.1,274.4 367.1,274.4 368.1,274.4 369.1,274.4 370.1,274.4 371.1,274.4 372.1,274.4 373.1,274.4 374.1,274.4 375.1,274.4 376.1,274.4 377.1,274.4 378.1,274.4 379.1,274.4 380.1,274.4 381.1,274.4 382.1,274.4 383.1,274.4 384.1,274.4 385.1,274.4 386.1,274.4 387.1,274.4 388.1,274.4 389.1,274.4 390.1,274.4 391.1,274.4 392.1,274.4 393.1,274.4 394.1,274.4 395.1,274.4 396.1,274.4 397.1,274.4 398.1,274.4 399.1,274.4 400.1,274.4 401.2,274.4 402.2,274.4 403.2,274.4 404.2,274.4 405.2,274.4 406.2,274.4 407.2,274.4 408.2,274.4 409.2,274.4 410.2,274.4 411.2,274.4 412.2,274.4 413.2,274.4 414.2,274.4 415.2,274.4 416.2,274.4 417.2,274.4 418.2,274.4 419.2,274.4 420.2,274.4 421.2,274.4 422.2,274.4 423.2,274.4 424.2,274.4 425.2,274.4 426.2,274.4 427.2,274.4 428.2,274.4 429.2,274.4 430.2,274.4 431.2,274.4 432.2,274.4 433.2,274.4 434.2,274.4 435.2,274.4 436.2,274.4 437.2,274.4 438.2,274.4 439.2,274.4 440.2,274.4 441.2,274.4 442.3,274.4 443.3,274.4 444.3,274.4 445.3,274.4 446.3,274.4 447.3,274.4 448.3,274.4 449.3,274.4 450.3,274.4 451.3,274.4 452.3,274.4 453.3,274.4 454.3,274.4 455.3,274.4 456.3,274.4 457.3,274.4 458.3,274.4 459.3,274.4 460.3,274.4 461.3,274.4 462.3,274.4 463.3,274.4 464.3,274.4 465.3,274.4 466.3,274.4 467.3,274.4 468.3,274.4 469.3,274.4 470.3,274.4 471.3,274.4 472.3,274.4 473.3,274.4 474.3,274.4 475.3,274.4 476.3,274.4 477.3,274.4 478.3,274.4 479.3,274.4 480.3,274.4 481.3,274.4 482.4,274.4 483.4,274.4 484.4,274.4 485.4,274.4 486.4,274.4 487.4,274.4 488.4,274.4 489.4,274.4 490.4,274.4 491.4,274.4 492.4,274.4 493.4,274.4 494.4,274.4 495.4,274.4 496.4,274.4 497.4,274.4 498.4,274.4 499.4,274.4 500.4,274.4 501.4,274.4 502.4,274.4"/>
</g>
<path d="M179.5 25.2 V37.7 M179.5 46.8 V59.3 M179.5 68.4 V80.9 M179.5 90.0 V102.5 M179.5 111.6 V124.1 M179.5 133.2 V145.7 M179.5 154.8 V167.3 M179.5 176.4 V188.9 M179.5 198.0 V210.5 M179.5 219.6 V232.1 M179.5 241.2 V253.7 M179.5 262.8 V275.3  M287.1 25.2 V37.7 M287.1 46.8 V59.3 M287.1 68.4 V80.9 M287.1 90.0 V102.5 M287.1 111.6 V124.1 M287.1 133.2 V145.7 M287.1 154.8 V167.3 M287.1 176.4 V188.9 M287.1 198.0 V210.5 M287.1 219.6 V232.1 M287.1 241.2 V253.7 M287.1 262.8 V275.3 " stroke="#000" stroke-width="2.2" fill="none"/>
<rect x="72.0" y="12.9" width="430.4" height="266.20000000000005" fill="none" stroke="#000" stroke-width="2.3"/>
<path d="M72.00 279.1 v-4.5 M72.00 12.9 v4.5 M86.34 279.1 v-2.4 M86.34 12.9 v2.4 M100.69 279.1 v-2.4 M100.69 12.9 v2.4 M115.03 279.1 v-2.4 M115.03 12.9 v2.4 M129.38 279.1 v-2.4 M129.38 12.9 v2.4 M143.72 279.1 v-4.5 M143.72 12.9 v4.5 M158.06 279.1 v-2.4 M158.06 12.9 v2.4 M172.41 279.1 v-2.4 M172.41 12.9 v2.4 M186.75 279.1 v-2.4 M186.75 12.9 v2.4 M201.10 279.1 v-2.4 M201.10 12.9 v2.4 M215.44 279.1 v-4.5 M215.44 12.9 v4.5 M229.78 279.1 v-2.4 M229.78 12.9 v2.4 M244.13 279.1 v-2.4 M244.13 12.9 v2.4 M258.47 279.1 v-2.4 M258.47 12.9 v2.4 M272.82 279.1 v-2.4 M272.82 12.9 v2.4 M287.16 279.1 v-4.5 M287.16 12.9 v4.5 M301.50 279.1 v-2.4 M301.50 12.9 v2.4 M315.85 279.1 v-2.4 M315.85 12.9 v2.4 M330.19 279.1 v-2.4 M330.19 12.9 v2.4 M344.54 279.1 v-2.4 M344.54 12.9 v2.4 M358.88 279.1 v-4.5 M358.88 12.9 v4.5 M373.22 279.1 v-2.4 M373.22 12.9 v2.4 M387.57 279.1 v-2.4 M387.57 12.9 v2.4 M401.91 279.1 v-2.4 M401.91 12.9 v2.4 M416.26 279.1 v-2.4 M416.26 12.9 v2.4 M430.60 279.1 v-4.5 M430.60 12.9 v4.5 M444.94 279.1 v-2.4 M444.94 12.9 v2.4 M459.29 279.1 v-2.4 M459.29 12.9 v2.4 M473.63 279.1 v-2.4 M473.63 12.9 v2.4 M487.98 279.1 v-2.4 M487.98 12.9 v2.4 M502.32 279.1 v-4.5 M502.32 12.9 v4.5 M72.0 274.10 h4.5 M502.4 274.10 h-4.5 M72.0 261.29 h2.4 M502.4 261.29 h-2.4 M72.0 248.47 h2.4 M502.4 248.47 h-2.4 M72.0 235.66 h2.4 M502.4 235.66 h-2.4 M72.0 222.84 h4.5 M502.4 222.84 h-4.5 M72.0 210.03 h2.4 M502.4 210.03 h-2.4 M72.0 197.21 h2.4 M502.4 197.21 h-2.4 M72.0 184.40 h2.4 M502.4 184.40 h-2.4 M72.0 171.58 h4.5 M502.4 171.58 h-4.5 M72.0 158.77 h2.4 M502.4 158.77 h-2.4 M72.0 145.95 h2.4 M502.4 145.95 h-2.4 M72.0 133.14 h2.4 M502.4 133.14 h-2.4 M72.0 120.32 h4.5 M502.4 120.32 h-4.5 M72.0 107.51 h2.4 M502.4 107.51 h-2.4 M72.0 94.69 h2.4 M502.4 94.69 h-2.4 M72.0 81.88 h2.4 M502.4 81.88 h-2.4 M72.0 69.06 h4.5 M502.4 69.06 h-4.5 M72.0 56.25 h2.4 M502.4 56.25 h-2.4 M72.0 43.43 h2.4 M502.4 43.43 h-2.4 M72.0 30.62 h2.4 M502.4 30.62 h-2.4 M72.0 17.80 h4.5 M502.4 17.80 h-4.5" stroke="#000" stroke-width="1.9" fill="none"/>
<g font-family="Liberation Serif, serif" fill="#141414">
<text transform="translate(38.12,283.60) scale(0.954,1)" font-size="24.2" style="font-kerning:none">0.0</text>
<text transform="translate(38.11,232.34) scale(0.968,1)" font-size="24.2" style="font-kerning:none">0.2</text>
<text transform="translate(38.14,181.08) scale(0.936,1)" font-size="24.2" style="font-kerning:none">0.4</text>
<text transform="translate(38.13,129.82) scale(0.947,1)" font-size="24.2" style="font-kerning:none">0.6</text>
<text transform="translate(38.12,78.56) scale(0.954,1)" font-size="24.2" style="font-kerning:none">0.8</text>
<text transform="translate(38.14,27.30) scale(0.967,1)" font-size="24.2" style="font-kerning:none">1.0</text>
<text transform="translate(66.10,310.30) scale(0.975,1)" font-size="24.2" style="font-kerning:none">0</text>
<text transform="translate(137.17,310.30) scale(1.009,1)" font-size="24.2" style="font-kerning:none">1</text>
<text transform="translate(209.34,310.30) scale(1.031,1)" font-size="24.2" style="font-kerning:none">2</text>
<text transform="translate(281.00,310.30) scale(1.000,1)" font-size="24.2" style="font-kerning:none">3</text>
<text transform="translate(353.46,310.30) scale(0.889,1)" font-size="24.2" style="font-kerning:none">4</text>
<text transform="translate(424.16,310.30) scale(1.026,1)" font-size="24.2" style="font-kerning:none">5</text>
<text transform="translate(496.31,310.30) scale(0.967,1)" font-size="24.2" style="font-kerning:none">6</text>
<text transform="translate(244.65,345.20) scale(0.977,1)" font-size="21.6" font-style="italic">M</text>
<path d="M263.89 342.32 C264.17 341.24 264.93 340.81 265.69 341.24 C266.45 341.67 266.83 342.86 267.40 344.37 L269.49 349.77 C269.87 350.74 270.44 351.39 271.11 351.18 C271.58 351.07 271.96 350.64 272.15 350.10" fill="none" stroke="#000" stroke-width="1.4" stroke-linecap="round"/><path d="M272.81 341.02 L263.98 351.28" fill="none" stroke="#000" stroke-width="0.85" stroke-linecap="round"/>
<text transform="translate(283.03,345.20) scale(0.668,1)" font-size="21.5">[</text>
<text transform="translate(288.59,345.20) scale(1.045,1)" font-size="21.6">T</text>
<text transform="translate(301.78,345.20) scale(0.976,1)" font-size="21.6">e</text>
<text transform="translate(310.37,345.20) scale(0.940,1)" font-size="21.6">V</text>
<text transform="translate(325.28,345.20) scale(0.668,1)" font-size="21.5">]</text>
<g transform="translate(21.0,189.7) rotate(-90)">
<text transform="translate(-0.52,0.00) scale(0.954,1)" font-size="22.4">B</text>
<text transform="translate(13.79,0.00) scale(1.130,1)" font-size="22.4">r</text>
<text transform="translate(31.46,0.00) scale(0.795,1)" font-size="24">(</text>
<path d="M45.50 -16.6 L41.20 -5.7 L45.50 5.0" fill="none" stroke="#000" stroke-width="0.95"/>
<text transform="translate(47.14,0.00) scale(1.024,1)" font-size="21.5" font-style="italic">σ</text>
<text transform="translate(59.99,0.00) scale(1.060,1)" font-size="21.5" font-style="italic">v</text>
<path d="M72.40 -16.6 L77.30 -5.7 L72.40 5.0" fill="none" stroke="#000" stroke-width="0.95"/>
<text transform="translate(80.26,0.00) scale(0.827,1)" font-size="24">)</text>
</g>
<rect x="528" y="24.95" width="13.8" height="3.7" fill="#FFB900"/>
<path d="M553.2 23.70 H564.2" stroke="#666" stroke-width="1.2"/>
<path d="M553.90 27.79 C554.19 26.73 554.99 26.31 555.78 26.73 C556.57 27.15 556.97 28.32 557.56 29.80 L559.74 35.10 C560.13 36.06 560.73 36.69 561.42 36.48 C561.92 36.38 562.31 35.95 562.51 35.42" fill="none" stroke="#000" stroke-width="1.3" stroke-linecap="round"/><path d="M563.20 26.52 L554.00 36.59" fill="none" stroke="#000" stroke-width="0.75" stroke-linecap="round"/>
<path d="M564.78 27.79 C565.06 26.73 565.80 26.31 566.55 26.73 C567.29 27.15 567.66 28.32 568.22 29.80 L570.27 35.10 C570.64 36.06 571.20 36.69 571.85 36.48 C572.31 36.38 572.68 35.95 572.87 35.42" fill="none" stroke="#000" stroke-width="1.3" stroke-linecap="round"/><path d="M573.52 26.52 L564.87 36.59" fill="none" stroke="#000" stroke-width="0.75" stroke-linecap="round"/>
<path d="M579.8 29.50 H594.6 M590.6 26.20 C591.4 27.90 593 29.00 595 29.50 C593 30.00 591.4 31.10 590.6 32.80" fill="none" stroke="#000" stroke-width="0.8"/>
<path d="M600.2 23.70 H608.6" stroke="#666" stroke-width="1.2"/>
<text transform="translate(600.37,33.70) scale(1.001,1)" font-size="16.0" font-style="italic">q</text>
<text transform="translate(608.48,33.70) scale(0.987,1)" font-size="16.0" font-style="italic">q</text>
<rect x="528" y="62.15" width="13.8" height="3.7" fill="#00C8B4"/>
<path d="M553.2 60.90 H564.2" stroke="#666" stroke-width="1.2"/>
<path d="M553.90 64.99 C554.19 63.93 554.99 63.51 555.78 63.93 C556.57 64.35 556.97 65.52 557.56 67.00 L559.74 72.30 C560.13 73.26 560.73 73.89 561.42 73.68 C561.92 73.58 562.31 73.15 562.51 72.62" fill="none" stroke="#000" stroke-width="1.3" stroke-linecap="round"/><path d="M563.20 63.72 L554.00 73.79" fill="none" stroke="#000" stroke-width="0.75" stroke-linecap="round"/>
<path d="M564.78 64.99 C565.06 63.93 565.80 63.51 566.55 63.93 C567.29 64.35 567.66 65.52 568.22 67.00 L570.27 72.30 C570.64 73.26 571.20 73.89 571.85 73.68 C572.31 73.58 572.68 73.15 572.87 72.62" fill="none" stroke="#000" stroke-width="1.3" stroke-linecap="round"/><path d="M573.52 63.72 L564.87 73.79" fill="none" stroke="#000" stroke-width="0.75" stroke-linecap="round"/>
<path d="M579.8 66.70 H594.6 M590.6 63.40 C591.4 65.10 593 66.20 595 66.70 C593 67.20 591.4 68.30 590.6 70.00" fill="none" stroke="#000" stroke-width="0.8"/>
<text transform="translate(601.67,70.90) scale(1.099,1)" font-size="16.8" font-style="italic">Z</text>
<text transform="translate(612.98,73.30) scale(1.111,1)" font-size="11.8" font-style="italic">B</text>
<text transform="translate(623.37,70.90) scale(1.099,1)" font-size="16.8" font-style="italic">Z</text>
<text transform="translate(634.68,73.30) scale(1.111,1)" font-size="11.8" font-style="italic">B</text>
<rect x="528" y="99.65" width="13.8" height="3.7" fill="#00BEFF"/>
<path d="M553.2 98.40 H564.2" stroke="#666" stroke-width="1.2"/>
<path d="M553.90 102.49 C554.19 101.43 554.99 101.01 555.78 101.43 C556.57 101.85 556.97 103.02 557.56 104.50 L559.74 109.80 C560.13 110.76 560.73 111.39 561.42 111.18 C561.92 111.08 562.31 110.65 562.51 110.12" fill="none" stroke="#000" stroke-width="1.3" stroke-linecap="round"/><path d="M563.20 101.22 L554.00 111.29" fill="none" stroke="#000" stroke-width="0.75" stroke-linecap="round"/>
<path d="M564.78 102.49 C565.06 101.43 565.80 101.01 566.55 101.43 C567.29 101.85 567.66 103.02 568.22 104.50 L570.27 109.80 C570.64 110.76 571.20 111.39 571.85 111.18 C572.31 111.08 572.68 110.65 572.87 110.12" fill="none" stroke="#000" stroke-width="1.3" stroke-linecap="round"/><path d="M573.52 101.22 L564.87 111.29" fill="none" stroke="#000" stroke-width="0.75" stroke-linecap="round"/>
<path d="M579.8 104.20 H594.6 M590.6 100.90 C591.4 102.60 593 103.70 595 104.20 C593 104.70 591.4 105.80 590.6 107.50" fill="none" stroke="#000" stroke-width="0.8"/>
<text transform="translate(601.67,108.40) scale(1.099,1)" font-size="16.8" font-style="italic">Z</text>
<text transform="translate(612.98,110.80) scale(1.111,1)" font-size="11.8" font-style="italic">B</text>
<text transform="translate(622.38,108.40) scale(1.184,1)" font-size="16.8" font-style="italic">h</text>
<text transform="translate(631.45,110.80) scale(1.075,1)" font-size="11.6">2</text>
<rect x="528" y="137.05" width="13.8" height="3.7" fill="#FF7878"/>
<path d="M553.2 135.80 H564.2" stroke="#666" stroke-width="1.2"/>
<path d="M553.90 139.89 C554.19 138.83 554.99 138.41 555.78 138.83 C556.57 139.25 556.97 140.42 557.56 141.90 L559.74 147.20 C560.13 148.16 560.73 148.79 561.42 148.58 C561.92 148.48 562.31 148.05 562.51 147.52" fill="none" stroke="#000" stroke-width="1.3" stroke-linecap="round"/><path d="M563.20 138.62 L554.00 148.69" fill="none" stroke="#000" stroke-width="0.75" stroke-linecap="round"/>
<path d="M564.78 139.89 C565.06 138.83 565.80 138.41 566.55 138.83 C567.29 139.25 567.66 140.42 568.22 141.90 L570.27 147.20 C570.64 148.16 571.20 148.79 571.85 148.58 C572.31 148.48 572.68 148.05 572.87 147.52" fill="none" stroke="#000" stroke-width="1.3" stroke-linecap="round"/><path d="M573.52 138.62 L564.87 148.69" fill="none" stroke="#000" stroke-width="0.75" stroke-linecap="round"/>
<path d="M579.8 141.60 H594.6 M590.6 138.30 C591.4 140.00 593 141.10 595 141.60 C593 142.10 591.4 143.20 590.6 144.90" fill="none" stroke="#000" stroke-width="0.8"/>
<text transform="translate(601.67,145.80) scale(1.099,1)" font-size="16.8" font-style="italic">Z</text>
<text transform="translate(612.98,148.20) scale(1.111,1)" font-size="11.8" font-style="italic">B</text>
<text transform="translate(622.38,145.80) scale(1.184,1)" font-size="16.8" font-style="italic">h</text>
<text transform="translate(632.48,148.20) scale(0.906,1)" font-size="11.6">1</text>
<rect x="528" y="174.55" width="13.8" height="3.7" fill="#C369FF"/>
<path d="M553.2 173.30 H564.2" stroke="#666" stroke-width="1.2"/>
<path d="M553.90 177.39 C554.19 176.33 554.99 175.91 555.78 176.33 C556.57 176.75 556.97 177.92 557.56 179.40 L559.74 184.70 C560.13 185.66 560.73 186.29 561.42 186.08 C561.92 185.98 562.31 185.55 562.51 185.02" fill="none" stroke="#000" stroke-width="1.3" stroke-linecap="round"/><path d="M563.20 176.12 L554.00 186.19" fill="none" stroke="#000" stroke-width="0.75" stroke-linecap="round"/>
<path d="M564.78 177.39 C565.06 176.33 565.80 175.91 566.55 176.33 C567.29 176.75 567.66 177.92 568.22 179.40 L570.27 184.70 C570.64 185.66 571.20 186.29 571.85 186.08 C572.31 185.98 572.68 185.55 572.87 185.02" fill="none" stroke="#000" stroke-width="1.3" stroke-linecap="round"/><path d="M573.52 176.12 L564.87 186.19" fill="none" stroke="#000" stroke-width="0.75" stroke-linecap="round"/>
<path d="M579.8 179.10 H594.6 M590.6 175.80 C591.4 177.50 593 178.60 595 179.10 C593 179.60 591.4 180.70 590.6 182.40" fill="none" stroke="#000" stroke-width="0.8"/>
<text transform="translate(600.68,183.30) scale(1.184,1)" font-size="16.8" font-style="italic">h</text>
<text transform="translate(610.78,185.70) scale(0.906,1)" font-size="11.6">1</text>
<text transform="translate(616.88,183.30) scale(1.184,1)" font-size="16.8" font-style="italic">h</text>
<text transform="translate(626.98,185.70) scale(0.906,1)" font-size="11.6">1</text>
<rect x="528" y="211.95" width="13.8" height="3.7" fill="#F0320A"/>
<path d="M553.2 210.70 H564.2" stroke="#666" stroke-width="1.2"/>
<path d="M553.90 214.79 C554.19 213.73 554.99 213.31 555.78 213.73 C556.57 214.15 556.97 215.32 557.56 216.80 L559.74 222.10 C560.13 223.06 560.73 223.69 561.42 223.48 C561.92 223.38 562.31 222.95 562.51 222.42" fill="none" stroke="#000" stroke-width="1.3" stroke-linecap="round"/><path d="M563.20 213.52 L554.00 223.59" fill="none" stroke="#000" stroke-width="0.75" stroke-linecap="round"/>
<path d="M564.78 214.79 C565.06 213.73 565.80 213.31 566.55 213.73 C567.29 214.15 567.66 215.32 568.22 216.80 L570.27 222.10 C570.64 223.06 571.20 223.69 571.85 223.48 C572.31 223.38 572.68 222.95 572.87 222.42" fill="none" stroke="#000" stroke-width="1.3" stroke-linecap="round"/><path d="M573.52 213.52 L564.87 223.59" fill="none" stroke="#000" stroke-width="0.75" stroke-linecap="round"/>
<path d="M579.8 216.50 H594.6 M590.6 213.20 C591.4 214.90 593 216.00 595 216.50 C593 217.00 591.4 218.10 590.6 219.80" fill="none" stroke="#000" stroke-width="0.8"/>
<text transform="translate(600.68,220.70) scale(1.184,1)" font-size="16.8" font-style="italic">h</text>
<text transform="translate(609.75,223.10) scale(1.075,1)" font-size="11.6">2</text>
<text transform="translate(616.88,220.70) scale(1.184,1)" font-size="16.8" font-style="italic">h</text>
<text transform="translate(625.95,223.10) scale(1.075,1)" font-size="11.6">2</text>
<rect x="528" y="249.05" width="13.8" height="3.7" fill="#8CFF8C"/>
<path d="M553.2 247.80 H564.2" stroke="#666" stroke-width="1.2"/>
<path d="M553.90 251.89 C554.19 250.83 554.99 250.41 555.78 250.83 C556.57 251.25 556.97 252.42 557.56 253.90 L559.74 259.20 C560.13 260.16 560.73 260.79 561.42 260.58 C561.92 260.48 562.31 260.05 562.51 259.52" fill="none" stroke="#000" stroke-width="1.3" stroke-linecap="round"/><path d="M563.20 250.62 L554.00 260.69" fill="none" stroke="#000" stroke-width="0.75" stroke-linecap="round"/>
<path d="M564.78 251.89 C565.06 250.83 565.80 250.41 566.55 250.83 C567.29 251.25 567.66 252.42 568.22 253.90 L570.27 259.20 C570.64 260.16 571.20 260.79 571.85 260.58 C572.31 260.48 572.68 260.05 572.87 259.52" fill="none" stroke="#000" stroke-width="1.3" stroke-linecap="round"/><path d="M573.52 250.62 L564.87 260.69" fill="none" stroke="#000" stroke-width="0.75" stroke-linecap="round"/>
<path d="M579.8 253.60 H594.6 M590.6 250.30 C591.4 252.00 593 253.10 595 253.60 C593 254.10 591.4 255.20 590.6 256.90" fill="none" stroke="#000" stroke-width="0.8"/>
<text transform="translate(600.68,257.80) scale(1.184,1)" font-size="16.8" font-style="italic">h</text>
<text transform="translate(610.78,260.20) scale(0.906,1)" font-size="11.6">1</text>
<text transform="translate(616.88,257.80) scale(1.184,1)" font-size="16.8" font-style="italic">h</text>
<text transform="translate(625.95,260.20) scale(1.075,1)" font-size="11.6">2</text>
<rect x="528" y="286.60" width="13.8" height="3.7" fill="#C5680F"/>
<path d="M553.2 285.35 H564.2" stroke="#666" stroke-width="1.2"/>
<path d="M553.90 289.44 C554.19 288.38 554.99 287.96 555.78 288.38 C556.57 288.80 556.97 289.97 557.56 291.45 L559.74 296.75 C560.13 297.71 560.73 298.34 561.42 298.13 C561.92 298.03 562.31 297.60 562.51 297.07" fill="none" stroke="#000" stroke-width="1.3" stroke-linecap="round"/><path d="M563.20 288.17 L554.00 298.24" fill="none" stroke="#000" stroke-width="0.75" stroke-linecap="round"/>
<path d="M564.78 289.44 C565.06 288.38 565.80 287.96 566.55 288.38 C567.29 288.80 567.66 289.97 568.22 291.45 L570.27 296.75 C570.64 297.71 571.20 298.34 571.85 298.13 C572.31 298.03 572.68 297.60 572.87 297.07" fill="none" stroke="#000" stroke-width="1.3" stroke-linecap="round"/><path d="M573.52 288.17 L564.87 298.24" fill="none" stroke="#000" stroke-width="0.75" stroke-linecap="round"/>
<path d="M579.8 291.15 H594.6 M590.6 287.85 C591.4 289.55 593 290.65 595 291.15 C593 291.65 591.4 292.75 590.6 294.45" fill="none" stroke="#000" stroke-width="0.8"/>
<text transform="translate(600.02,295.35) scale(1.158,1)" font-size="16.8" font-style="italic">W</text>
<path d="M619.2 285.55 h7.4 M622.9 281.75 v7.6" stroke="#000" stroke-width="0.75" fill="none"/>
<text transform="translate(627.43,295.35) scale(1.151,1)" font-size="16.8" font-style="italic">W</text>
<path d="M647.1 285.75 h7.4" stroke="#000" stroke-width="0.75" fill="none"/>
<rect x="528" y="323.95" width="13.8" height="3.7" fill="#FF7D00"/>
<path d="M553.2 322.70 H564.2" stroke="#666" stroke-width="1.2"/>
<path d="M553.90 326.79 C554.19 325.73 554.99 325.31 555.78 325.73 C556.57 326.15 556.97 327.32 557.56 328.80 L559.74 334.10 C560.13 335.06 560.73 335.69 561.42 335.48 C561.92 335.38 562.31 334.95 562.51 334.42" fill="none" stroke="#000" stroke-width="1.3" stroke-linecap="round"/><path d="M563.20 325.52 L554.00 335.59" fill="none" stroke="#000" stroke-width="0.75" stroke-linecap="round"/>
<path d="M564.78 326.79 C565.06 325.73 565.80 325.31 566.55 325.73 C567.29 326.15 567.66 327.32 568.22 328.80 L570.27 334.10 C570.64 335.06 571.20 335.69 571.85 335.48 C572.31 335.38 572.68 334.95 572.87 334.42" fill="none" stroke="#000" stroke-width="1.3" stroke-linecap="round"/><path d="M573.52 325.52 L564.87 335.59" fill="none" stroke="#000" stroke-width="0.75" stroke-linecap="round"/>
<path d="M579.8 328.50 H594.6 M590.6 325.20 C591.4 326.90 593 328.00 595 328.50 C593 329.00 591.4 330.10 590.6 331.80" fill="none" stroke="#000" stroke-width="0.8"/>
<text transform="translate(601.67,332.70) scale(1.099,1)" font-size="16.8" font-style="italic">Z</text>
<text transform="translate(614.47,332.70) scale(1.099,1)" font-size="16.8" font-style="italic">Z</text>
<g transform="translate(162.8,191.4) rotate(-90)"><text transform="translate(0.42,0.00) scale(1.083,1)" font-size="17.0" font-style="italic">M</text><path d="M15.70 -1.84 C15.90 -2.62 16.42 -2.92 16.95 -2.62 C17.48 -2.31 17.74 -1.46 18.14 -0.38 L19.59 3.47 C19.86 4.16 20.25 4.62 20.71 4.47 C21.04 4.39 21.31 4.08 21.44 3.70" fill="none" stroke="#000" stroke-width="0.95" stroke-linecap="round"/><path d="M21.90 -2.77 L15.76 4.55" fill="none" stroke="#000" stroke-width="0.6" stroke-linecap="round"/><path d="M29.2 -5.8 h10.6 M29.2 -2.9 h10.6" stroke="#000" stroke-width="0.7" fill="none"/><text transform="translate(48.13,-11.20) scale(0.785,1)" font-size="17.0">1</text><path d="M46.8 -4.4 h9.6" stroke="#000" stroke-width="0.7" fill="none"/><text transform="translate(47.58,11.20) scale(0.968,1)" font-size="17.0">2</text><text transform="translate(59.11,0.00) scale(1.070,1)" font-size="17.0" font-style="italic">M</text><text transform="translate(74.35,2.40) scale(1.058,1)" font-size="11.3" font-style="italic">Z</text><text transform="translate(83.00,4.40) scale(1.235,1)" font-size="8.8" font-style="italic">B</text></g>
<g transform="translate(272.8,184.7) rotate(-90)"><text transform="translate(0.42,0.00) scale(1.083,1)" font-size="17.0" font-style="italic">M</text><path d="M15.70 -1.84 C15.90 -2.62 16.42 -2.92 16.95 -2.62 C17.48 -2.31 17.74 -1.46 18.14 -0.38 L19.59 3.47 C19.86 4.16 20.25 4.62 20.71 4.47 C21.04 4.39 21.31 4.08 21.44 3.70" fill="none" stroke="#000" stroke-width="0.95" stroke-linecap="round"/><path d="M21.90 -2.77 L15.76 4.55" fill="none" stroke="#000" stroke-width="0.6" stroke-linecap="round"/><path d="M29.2 -5.8 h10.6 M29.2 -2.9 h10.6" stroke="#000" stroke-width="0.7" fill="none"/><text transform="translate(47.11,0.00) scale(1.070,1)" font-size="17.0" font-style="italic">M</text><text transform="translate(62.35,2.40) scale(1.058,1)" font-size="11.3" font-style="italic">Z</text><text transform="translate(71.00,4.40) scale(1.235,1)" font-size="8.8" font-style="italic">B</text></g>
</g>
</svg>
</body></html>
